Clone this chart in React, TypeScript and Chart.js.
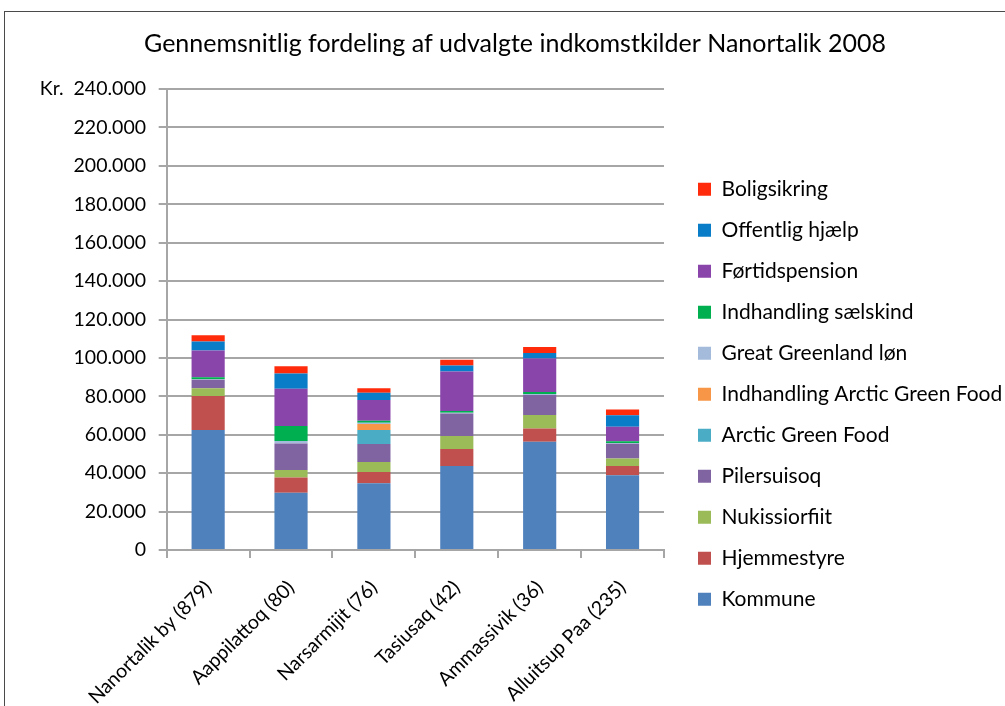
import React, { useEffect, useRef } from "react";
import { Chart, registerables } from "chart.js";

Chart.register(...registerables);

const categories = [
  "Nanortalik by (879)",
  "Aappilattoq (80)",
  "Narsarmijit (76)",
  "Tasiusaq (42)",
  "Ammassivik (36)",
  "Alluitsup Paa (235)",
];

const kommune = [62500, 29800, 34700, 43700, 56400, 38900];
const hjemmestyre = [17700, 8000, 5900, 8900, 6800, 4800];
const nukissiorfiit = [4000, 3800, 5200, 6800, 7100, 4000];
const pilersuisoq = [4400, 13900, 9400, 11600, 10400, 7600];
const arcticGreenFood = [0, 0, 7300, 0, 0, 0];
const indhandlingAGF = [0, 0, 3100, 0, 0, 0];
const greatGreenlandLon = [300, 1200, 700, 400, 500, 400];
const indhandlingSaelskind = [1000, 7800, 1000, 1000, 1000, 900];
const fortidspension = [13900, 19400, 10800, 20500, 17500, 7600];
const offentligHjaelp = [4700, 8000, 3800, 3100, 2900, 5900];
const boligsikring = [3300, 3800, 2300, 3000, 3100, 3100];

const seriesNames = [
  "Kommune",
  "Hjemmestyre",
  "Nukissiorfiit",
  "Pilersuisoq",
  "Arctic Green Food",
  "Indhandling Arctic Green Food",
  "Great Greenland løn",
  "Indhandling sælskind",
  "Førtidspension",
  "Offentlig hjælp",
  "Boligsikring",
];
const seriesValues = [
  kommune,
  hjemmestyre,
  nukissiorfiit,
  pilersuisoq,
  arcticGreenFood,
  indhandlingAGF,
  greatGreenlandLon,
  indhandlingSaelskind,
  fortidspension,
  offentligHjaelp,
  boligsikring,
];
const seriesColors = [
  "#4F81BD",
  "#C0504D",
  "#9BBB59",
  "#8064A2",
  "#4BACC6",
  "#F79646",
  "#A4BBDC",
  "#00B050",
  "#8A45AB",
  "#0A7DC8",
  "#FF2B0A",
];

const yMin = 0;
const yMax = 240000;
const yStep = 20000;
const titleText = "Gennemsnitlig fordeling af udvalgte indkomstkilder Nanortalik 2008";

const W = 1005;
const H = 706;
const PAD_L = 25;
const PLOT_LEFT = 166.7;
const PLOT_BOTTOM = 550;
const LEGEND_W = 341;
const LEGEND_LEFT = 678;
const LEGEND_TOP = 158.7;
const FONT = "Lato, 'Open Sans', sans-serif";
const TITLE_SIZE = 25;

function fmt(v: number): string {
  return String(v).replace(/\B(?=(\d{3})+(?!\d))/g, ".");
}

const legendPlacer = {
  id: "legendPlacer",
  beforeLayout(chart: any) {
    const lg = chart.legend;
    if (lg && !lg.__patched) {
      const orig = lg.fit;
      lg.fit = function () {
        orig.call(this);
        this.width = LEGEND_W;
      };
      lg.__patched = true;
    }
  },
  afterLayout(chart: any) {
    const lg = chart.legend;
    if (!lg) return;
    lg.left = LEGEND_LEFT;
    lg.right = LEGEND_LEFT + LEGEND_W;
    lg.top = LEGEND_TOP;
    lg.bottom = H;
    lg.height = H - LEGEND_TOP;
  },
};

export default function App() {
  const ref = useRef<HTMLCanvasElement | null>(null);

  useEffect(() => {
    if (!ref.current) return;
    const lineH = TITLE_SIZE * 1.2;
    const titleTop = 44 - lineH / 2;
    const chart = new Chart(ref.current, {
      type: "bar",
      data: {
        labels: categories,
        datasets: seriesNames.map((name, i) => ({
          label: name,
          data: seriesValues[i],
          backgroundColor: seriesColors[i],
          borderWidth: 0,
          categoryPercentage: 1,
          barPercentage: 0.4,
        })),
      },
      options: {
        responsive: false,
        animation: false,
        devicePixelRatio: 1,
        layout: { padding: { left: PAD_L, right: 0, top: 0, bottom: 0 } },
        plugins: {
          title: {
            display: true,
            text: titleText,
            color: "#000",
            font: { family: FONT, size: TITLE_SIZE, weight: "normal" },
            padding: { top: titleTop, bottom: 89 - titleTop - lineH },
          },
          legend: {
            position: "right",
            align: "start",
            reverse: true,
            labels: {
              boxWidth: 13,
              boxHeight: 13,
              padding: 20,
              color: "#000",
              font: { family: FONT, size: 21 },
            },
          },
          tooltip: { enabled: false },
        },
        scales: {
          x: {
            stacked: true,
            offset: true,
            grid: {
              display: true,
              drawOnChartArea: false,
              drawTicks: true,
              tickLength: 8,
              offset: true,
              color: "#A6A6A6",
              lineWidth: 2,
            },
            border: { display: true, color: "#A6A6A6", width: 2 },
            ticks: {
              autoSkip: false,
              maxRotation: 45,
              minRotation: 45,
              padding: 18,
              color: "#000",
              font: { family: FONT, size: 19.5 },
            },
            afterFit: (scale: any) => {
              scale.height = H - PLOT_BOTTOM;
            },
          },
          y: {
            stacked: true,
            min: yMin,
            max: yMax,
            grid: {
              color: "#A6A6A6",
              lineWidth: 2,
              drawTicks: true,
              tickLength: 8,
            },
            border: { display: true, color: "#A6A6A6", width: 2 },
            ticks: {
              stepSize: yStep,
              padding: 12.7,
              color: "#000",
              font: { family: FONT, size: 19.5 },
              callback: (v: any) => (v === yMax ? "Kr.  " + fmt(v) : fmt(v)),
            },
            afterFit: (scale: any) => {
              scale.width = PLOT_LEFT - PAD_L;
            },
          },
        },
      },
      plugins: [legendPlacer],
    });
    return () => chart.destroy();
  }, []);

  return (
    <div
      style={{
        position: "fixed",
        left: 0,
        top: 0,
        width: W,
        height: H,
        overflow: "hidden",
        background: "#fff",
      }}
    >
      <div
        style={{
          position: "absolute",
          left: 4,
          top: 11,
          width: 1200,
          height: 900,
          borderTop: "1.5px solid #4a4a4a",
          borderLeft: "1.5px solid #4a4a4a",
        }}
      />
      <canvas
        ref={ref}
        width={W}
        height={H}
        style={{ position: "absolute", left: 0, top: 0, width: W, height: H }}
      />
    </div>
  );
}
